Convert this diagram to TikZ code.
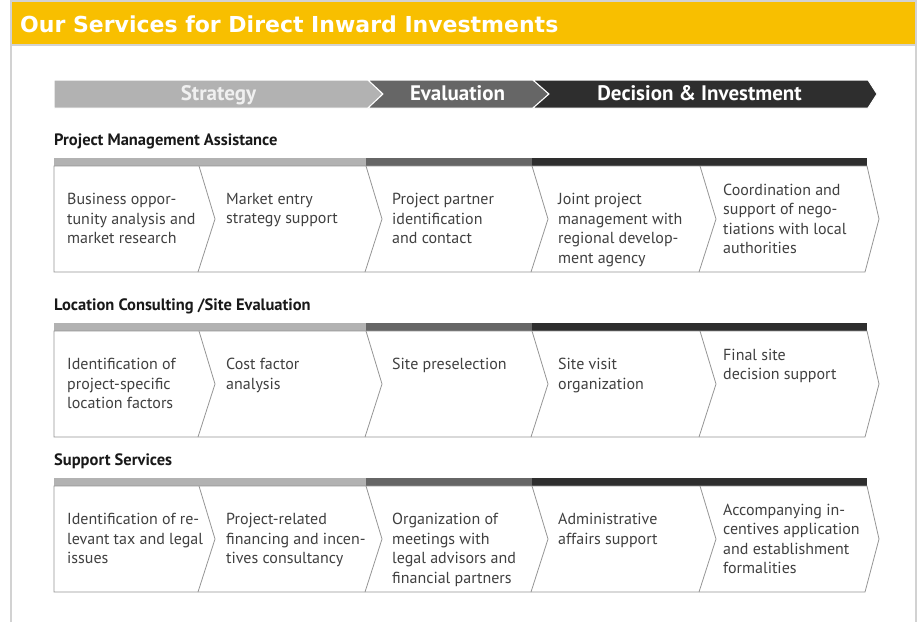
\documentclass[tikz,border=0pt]{standalone}
\usepackage{fontspec}
\setmainfont{PT Sans}
\newfontfamily\titlefont{DejaVu Sans}
\usetikzlibrary{positioning}

\definecolor{svyellow}{HTML}{F8BF00}
\definecolor{frameg}{HTML}{D2D2D2}
\definecolor{stratg}{HTML}{B2B2B2}
\definecolor{evalg}{HTML}{666666}
\definecolor{decg}{HTML}{2E2E2E}
\definecolor{lineg}{HTML}{959595}
\definecolor{txtg}{HTML}{404040}

\begin{document}
\begin{tikzpicture}[x=1pt,y=-1pt,
  phase/.style={fill=#1,draw=white,line width=1pt},
  phasetext/.style={anchor=base,inner sep=0,font=\bfseries\fontsize{21}{24}\selectfont},
  rowhead/.style={anchor=base west,inner sep=0,text=black!90,font=\bfseries\fontsize{16.5}{18}\selectfont},
  celltext/.style={anchor=north west,inner sep=0,align=left,text=txtg,font=\fontsize{16}{19.5}\selectfont},
  cellline/.style={draw=lineg,line width=0.8pt,line join=miter}]
\newcommand{\Rowh}{106}
\useasboundingbox (0,0) rectangle (917,622);
\fill[white] (0,0) rectangle (917,622);
% frame and title bar
\draw[frameg,line width=2pt] (10.5,622) -- (10.5,0.5) -- (915.5,0.5) -- (915.5,622);
\fill[svyellow] (12,1.5) rectangle (914.5,44);
\draw[frameg,line width=1.5pt] (11.5,45) -- (914.5,45);
\node[anchor=base west,inner sep=0,text=white,font=\titlefont\bfseries\fontsize{22}{24}\selectfont] (title) at (20,32) {Our Services for Direct Inward Investments};
% phase arrow
\draw[phase=stratg] (54,80) -- (368,80) -- (383,94) -- (368,108) -- (54,108) -- cycle;
\draw[phase=evalg] (368,80) -- (533,80) -- (549,94) -- (533,108) -- (368,108) -- (383,94) -- cycle;
\draw[phase=decg] (533,80) -- (868,80) -- (877,94) -- (868,108) -- (533,108) -- (549,94) -- cycle;
\node[phasetext,text=white!94!black] (pS) at (218.5,100) {Strategy};
\node[phasetext,text=white] (pE) at (457.5,100) {Evaluation};
\node[phasetext,text=white] (pD) at (699.5,100) {Decision \& Investment};
% rows of chevrons
\foreach \y/\hd [count=\r] in {166/{Project Management Assistance},331/{Location Consulting /Site Evaluation},486/{Support Services}} {
  \node[rowhead] (h\r) at (54,\y-20.5) {\hd};
  \fill[stratg] (54,\y-8) rectangle (366,\y);
  \fill[evalg] (366,\y-8) rectangle (532,\y);
  \fill[decg] (532,\y-8) rectangle (867,\y);
  \draw[cellline] (54,\y) -- (867,\y) -- (879,\y+\Rowh/2) -- (865,\y+\Rowh) -- (54,\y+\Rowh) -- cycle;
  \foreach \x in {199,366,532,700}
    \draw[cellline] (\x,\y) -- (\x+16,\y+\Rowh/2) -- (\x-1,\y+\Rowh);
}
\foreach \c/\x/\dy/\txt in {1/67/27/{Business oppor-\\tunity analysis and\\market research},
    2/226/27/{Market entry\\strategy support},
    3/392/27/{Project partner\\identification\\and contact},
    4/558/27/{Joint project\\management with\\regional develop-\\ment agency},
    5/723/17.5/{Coordination and\\support of nego-\\tiations with local\\authorities}}
  \node[celltext] (a\c) at (\x,166+\dy) {\txt};
\foreach \c/\x/\dy/\txt in {1/67/27/{Identification of\\project-specific\\location factors},
    2/226/27/{Cost factor\\analysis},
    3/392/27/{Site preselection},
    4/558/27/{Site visit\\organization},
    5/723/17.5/{Final site\\decision support}}
  \node[celltext] (b\c) at (\x,331+\dy) {\txt};
\foreach \c/\x/\dy/\txt in {1/67/27/{Identification of re-\\levant tax and legal\\issues},
    2/226/27/{Project-related\\financing and incen-\\tives consultancy},
    3/392/27/{Organization of\\meetings with\\legal advisors and\\financial partners},
    4/558/27/{Administrative\\affairs support},
    5/723/17.5/{Accompanying in-\\centives application\\and establishment\\formalities}}
  \node[celltext] (c\c) at (\x,486+\dy) {\txt};
\end{tikzpicture}
\end{document}
